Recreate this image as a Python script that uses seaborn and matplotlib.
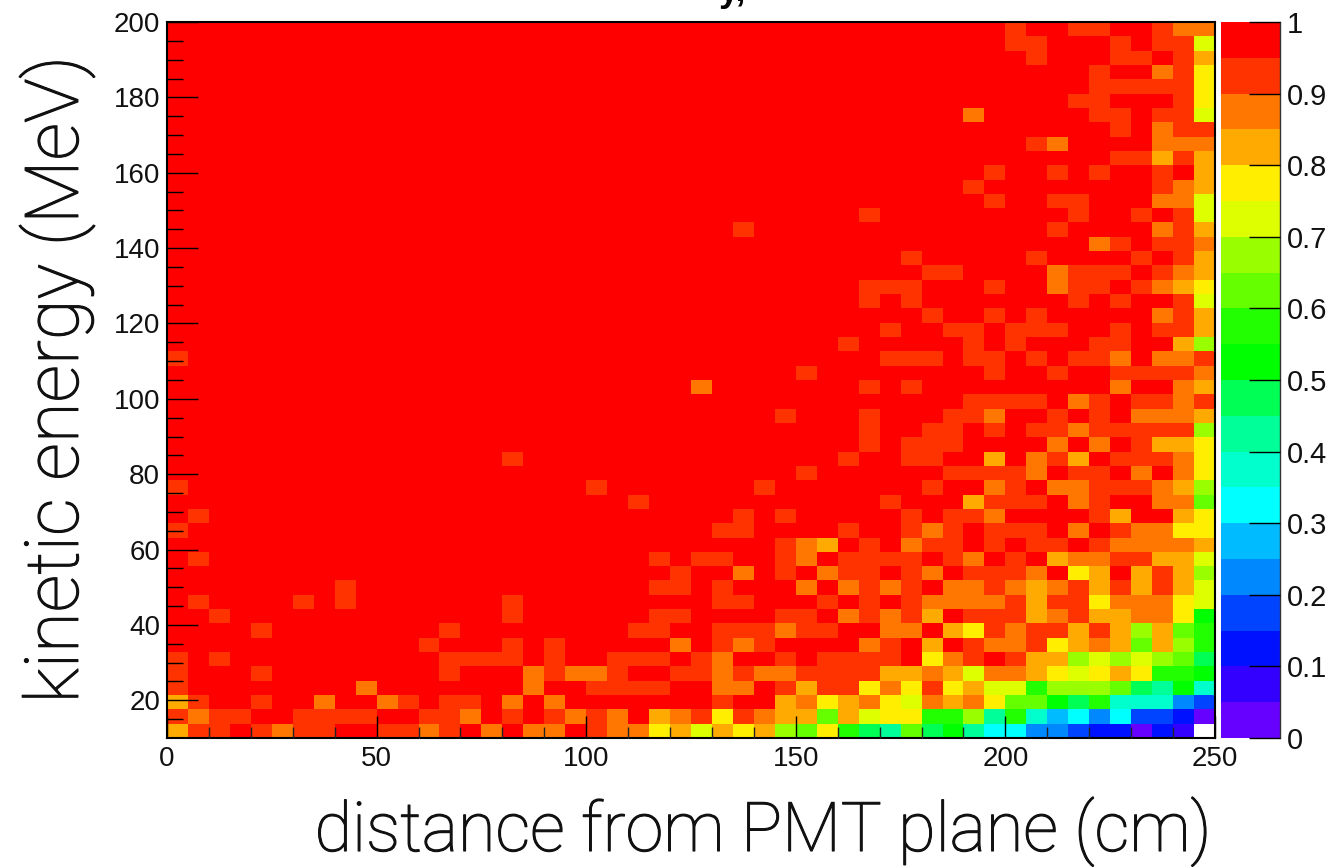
import numpy as np
import pandas as pd
import matplotlib
matplotlib.use("Agg")
import matplotlib.pyplot as plt
import matplotlib.patheffects as path_effects
from matplotlib.colors import ListedColormap
import seaborn as sns

DPI = 100
WIDTH, HEIGHT = 1335, 867

# palette steps, low to high (20 bins between 0 and 1)
LEVEL_COLORS = ["#6600ff", "#3300ff", "#0011ff", "#0044ff", "#0088ff",
                "#00bbff", "#00ffff", "#00ffcc", "#00ff99", "#00ff55",
                "#00ff00", "#22ff00", "#66ff00", "#99ff00", "#ddff00",
                "#ffee00", "#ffaa00", "#ff7700", "#ff3300", "#ff0000"]

# one character per cell: "." is the top bin (0.95-1),
# then 1..9, a..j going down one bin each, "_" is an empty cell
LEVEL_CODES = ".123456789abcdefghij"

# first row is 10-13.8 MeV, each row has 5 groups of 10 bins
CELL_ROWS = [
    "311.1211.. 1121.2.22. 1224353436 748ab7a9bd dffghhjhi_",
    "1211..1111 ..112.1.12 12.3214123 373544886b 8cedfdgghj",
    "31..1..2.. 21.11.2.2. ......1..3 2432452324 779a8cccfg",
    "1........2 .......2.. 1111..22.1 3114241435 586667ab9c",
    "1...1..... ...1...212 21..112122 1111332352 2345434889",
    "1.1....... ...1111.1. .111.12..1 .1111.421. 133656567a",
    ".......... ..1...1.1. ....2.121. ...21.3.12 2143237368",
    "....1..... ...1...... ..11..1112 11..22.341 2113136378",
    "..1....... ......1... ...11....1 1.21213.11 1321332249",
    ".1....1.1. ......1... ......11.. .1.1.12222 1311422245",
    "........1. .......... ...11.1... 2.2121.221 2321313135",
    ".......... .......... ....1..2.1 .211.12.11 12.43.3136",
    ".1........ .......... ...1.11..1 2.1111.12. 1.32211335",
    ".......... .......... .........1 23.1.211.1 .11.122223",
    "1......... .......... ......11.. ..1..121.1 11.2.12244",
    ".1........ .......... .......1.1 .....1.112 ....13..34",
    ".......... .......... ..1....... ....1...31 11.21..227",
    "1......... .......... 1.......1. ......1..2 1.22111236",
    ".......... .......... .......... 1......111 12.11.2.24",
    ".......... ......1... .......... ..1..11..3 .213.11124",
    ".......... .......... .......... ...1.111.. ..2.2.1334",
    ".......... .......... .......... ...1..11.1 .112111116",
    ".......... .......... .........1 ...1...112 ..1.1.2223",
    ".......... .......... .......... ........11 11.21.1121",
    ".......... .......... .....2.... ...1.1.... .....2..23",
    ".......... .......... .......... 1........1 ..1..11112",
    "1......... .......... .......... ....111.11 .1.112.221",
    ".......... .......... .......... ..1.....1. 1...11..36",
    ".......... .......... .......... ....1..11. 111..1.113",
    ".......... .......... .......... ......1..1 .1.....213",
    ".......... .......... .......... ...1.1.... ...1.1..15",
    ".......... .......... .......... ...111...1 ..211.1234",
    ".......... .......... .......... ......11.. ..2111.123",
    ".......... .......... .......... .....1.... .1....1.13",
    ".......... .......... .......... .......... ....21.112",
    ".......... .......... .......1.. .......... ..1....213",
    ".......... .......... .......... ...1...... ...1..1.15",
    ".......... .......... .......... .........1 ..11...225",
    ".......... .......... .......... ........1. .......123",
    ".......... .......... .......... .........1 ..1.1..1.3",
    ".......... .......... .......... .......... .....11313",
    ".......... .......... .......... .......... .12....222",
    ".......... .......... .......... .......... .....1.211",
    ".......... .......... .......... ........2. ....11.115",
    ".......... .......... .......... .......... ...11...14",
    ".......... .......... .......... .......... ....111114",
    ".......... .......... .......... .......... ....1..214",
    ".......... .......... .......... .......... .1...11.13",
    ".......... .......... .......... .......... 11...1.115",
    ".......... .......... .......... .......... 1..11..122",
]

X_MAX = 250
Y_MIN, Y_MAX = 10, 200
X_MAJOR = [0, 50, 100, 150, 200, 250]
X_MINOR = list(range(0, 251, 10))
Y_MAJOR = [20, 40, 60, 80, 100, 120, 140, 160, 180, 200]
Y_MINOR = list(range(15, 201, 5))
CBAR_TICKS = [0, 0.1, 0.2, 0.3, 0.4, 0.5, 0.6, 0.7, 0.8, 0.9, 1]
CBAR_LABELS = ["0", "0.1", "0.2", "0.3", "0.4", "0.5", "0.6", "0.7", "0.8", "0.9", "1"]
X_LABEL = "distance from PMT plane (cm)"
Y_LABEL = "kinetic energy (MeV)"


def decode_rows(rows):
    values = []
    for row in rows:
        cells = []
        for ch in row.replace(" ", ""):
            if ch == "_":
                cells.append(np.nan)
            else:
                cells.append(1 - 0.05 * (LEVEL_CODES.index(ch) + 0.5))
        values.append(cells)
    return np.array(values)


def px_rect(left, top, right, bottom):
    return [left / WIDTH, 1 - bottom / HEIGHT, (right - left) / WIDTH, (bottom - top) / HEIGHT]


sns.set_theme(style="white")
plt.rcParams["font.family"] = ["Liberation Sans", "DejaVu Sans"]

values = decode_rows(CELL_ROWS)
n_rows, n_cols = values.shape
frame = pd.DataFrame(values)

fig = plt.figure(figsize=(WIDTH / DPI, HEIGHT / DPI), dpi=DPI)
ax = fig.add_axes(px_rect(167, 22, 1215, 738))
cax = fig.add_axes(px_rect(1221, 22, 1280, 738))

sns.heatmap(frame, ax=ax, cbar_ax=cax, cmap=ListedColormap(LEVEL_COLORS), vmin=0, vmax=1,
            xticklabels=False, yticklabels=False, rasterized=True)
ax.set_ylim(0, n_rows)
ax.set_xlabel("")
ax.set_ylabel("")
ax.set_axisbelow(False)

# bin position of the data values
x_pos = lambda v: np.array(v) / X_MAX * n_cols
y_pos = lambda v: (np.array(v) - Y_MIN) / (Y_MAX - Y_MIN) * n_rows

ax.set_xticks(x_pos(X_MAJOR))
ax.set_xticklabels([str(v) for v in X_MAJOR], rotation=0)
ax.set_xticks(x_pos(X_MINOR), minor=True)
ax.set_yticks(y_pos(Y_MAJOR))
ax.set_yticklabels([str(v) for v in Y_MAJOR], rotation=0)
ax.set_yticks(y_pos(Y_MINOR), minor=True)
ax.tick_params(axis="x", which="major", direction="in", length=16, width=1, color="black",
               labelsize=20, pad=6, labelcolor="#111111", bottom=True)
ax.tick_params(axis="x", which="minor", direction="in", length=8, width=1, color="#222222", bottom=True)
ax.tick_params(axis="y", which="major", direction="in", length=22, width=1, color="black",
               labelsize=20, pad=5, labelcolor="#111111", left=True)
ax.tick_params(axis="y", which="minor", direction="in", length=11.5, width=1, color="black", left=True)
for side, spine in ax.spines.items():
    spine.set_visible(True)
    spine.set_color("black")
    spine.set_linewidth(1.5)

cbar = ax.collections[0].colorbar
cbar.outline.set_visible(False)
cbar.set_ticks(CBAR_TICKS)
cbar.set_ticklabels(CBAR_LABELS)
cax.set_axisbelow(False)
cax.yaxis.set_ticks_position("right")
cax.tick_params(axis="y", which="major", direction="in", length=22, width=1, color="black",
                labelsize=21, pad=5, labelcolor="#111111", right=True)
cax.spines["right"].set_visible(True)
cax.spines["right"].set_color("#333333")
cax.spines["right"].set_linewidth(1)

# Roboto Light is a bit thinner than the original label face
thicker = [path_effects.withStroke(linewidth=0.8, foreground="#111111")]
fig.text(1212 / WIDTH, 1 - 851 / HEIGHT, X_LABEL, ha="right", va="baseline",
         family=["Roboto", "Liberation Sans"], fontweight="light", fontsize=49.3, color="#111111",
         path_effects=thicker)
fig.text(57 / WIDTH, 1 - 380 / HEIGHT, Y_LABEL, ha="center", va="center", rotation=90,
         rotation_mode="anchor", family=["Roboto", "Liberation Sans"], fontweight="light",
         fontsize=53.5, color="#111111", path_effects=thicker)
# only the bottom of the title survives at the top edge of the picture
fig.text(732 / WIDTH, 1 - 1 / HEIGHT, "y,", ha="center", va="baseline", fontweight="bold",
         fontsize=26, color="black")

fig.savefig("out.png", dpi=DPI)
